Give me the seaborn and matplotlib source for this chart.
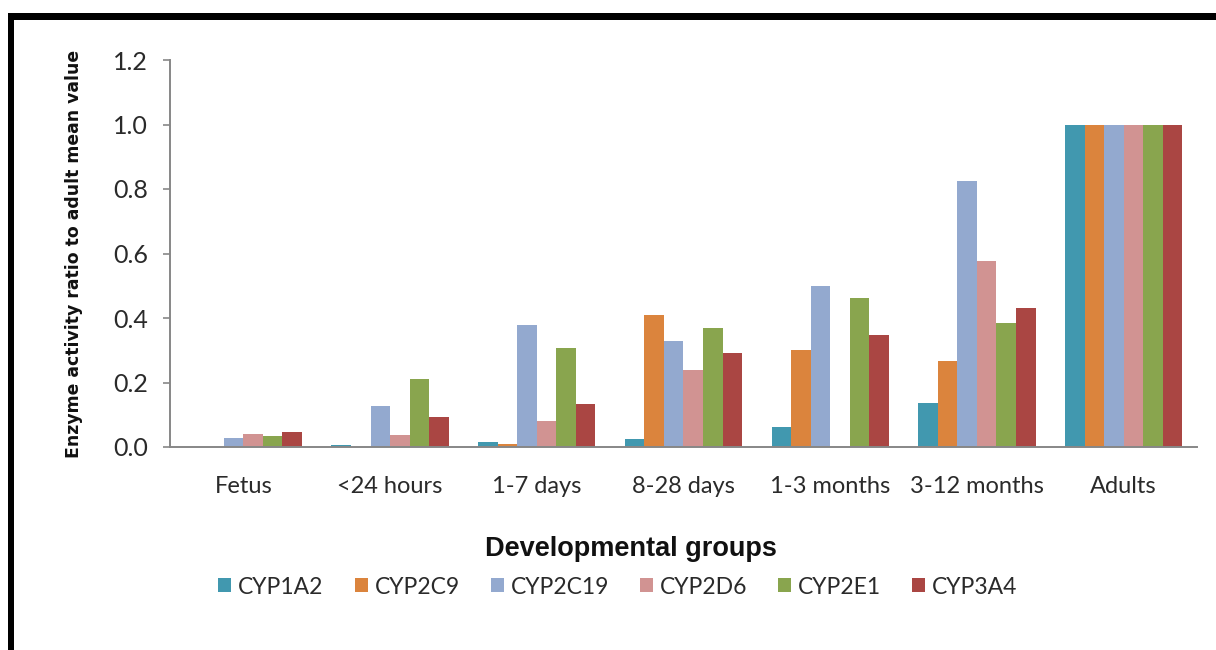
import pandas as pd
import matplotlib.pyplot as plt
import seaborn as sns
from matplotlib.patches import Rectangle

# data
groups = ['Fetus', '<24 hours', '1-7 days', '8-28 days', '1-3 months', '3-12 months', 'Adults']
enzymes = ['CYP1A2', 'CYP2C9', 'CYP2C19', 'CYP2D6', 'CYP2E1', 'CYP3A4']
cyp1a2 = [0.0, 0.005, 0.015, 0.024, 0.062, 0.136, 1.0]
cyp2c9 = [0.0, 0.0, 0.010, 0.410, 0.300, 0.268, 1.0]
cyp2c19 = [0.028, 0.127, 0.378, 0.328, 0.498, 0.824, 1.0]
cyp2d6 = [0.040, 0.037, 0.080, 0.240, 0.0, 0.578, 1.0]
cyp2e1 = [0.035, 0.212, 0.306, 0.370, 0.462, 0.383, 1.0]
cyp3a4 = [0.046, 0.093, 0.132, 0.290, 0.346, 0.432, 1.0]
colors = ['#4198AF', '#DB843D', '#93A9CF', '#D19392', '#89A54E', '#AA4643']

values = [cyp1a2, cyp2c9, cyp2c19, cyp2d6, cyp2e1, cyp3a4]
rows = []
for enz, vals in zip(enzymes, values):
    for g, v in zip(groups, vals):
        rows.append({'Group': g, 'Enzyme': enz, 'Value': v})
df = pd.DataFrame(rows)

sns.set_style('white')
plt.rcParams['font.family'] = ['Lato', 'DejaVu Sans']

fig = plt.figure(figsize=(12.16, 6.5), dpi=100)
ax = fig.add_axes([170 / 1216, 1 - 447 / 650, 1027 / 1216, 387 / 650])

sns.barplot(data=df, x='Group', y='Value', hue='Enzyme', order=groups,
            hue_order=enzymes, palette=colors, saturation=1, width=0.8,
            linewidth=0, ax=ax)

ax.set_ylim(0, 1.2)
ax.set_xlim(-0.5, len(groups) - 0.5)
ax.set_yticks([0, 0.2, 0.4, 0.6, 0.8, 1.0, 1.2])
ax.set_yticklabels(['0.0', '0.2', '0.4', '0.6', '0.8', '1.0', '1.2'])
ax.set_xticks([i - 0.5 for i in range(len(groups) + 1)], minor=True)

gray = '#878787'
for side in ['top', 'right']:
    ax.spines[side].set_visible(False)
for side in ['left', 'bottom']:
    ax.spines[side].set_color(gray)
    ax.spines[side].set_linewidth(1.4)

ax.tick_params(axis='x', which='major', length=0, labelsize=17, pad=21, labelcolor='#2a2a2a')
ax.tick_params(axis='x', which='minor', length=5, width=1.2, color=gray, direction='out')
ax.tick_params(axis='y', length=5, width=1.2, color=gray, direction='out',
               labelsize=18, pad=11, labelcolor='#2a2a2a', left=True)

ax.set_ylabel('Enzyme activity ratio to adult mean value', fontsize=12.4,
              fontweight='bold', family=['DejaVu Sans'], color='#111111')
ax.yaxis.set_label_coords(-0.085, 0.5)
ax.set_xlabel('Developmental groups', fontsize=19.5, fontweight='bold',
              family=['Liberation Sans'], color='#111111')
ax.xaxis.set_label_coords(0.449, -0.23)

handles, labels = ax.get_legend_handles_labels()
ax.legend_.remove()
fig.legend(handles, labels, loc='center', bbox_to_anchor=(618 / 1216, 1 - 587 / 650),
           ncol=6, frameon=False, fontsize=16.5, handlelength=0.57, handleheight=0.57,
           handletextpad=0.3, columnspacing=1.35, labelcolor='#2a2a2a')

# black frame at top and left of the reference image
fig.add_artist(Rectangle((8 / 1216, 1 - 20 / 650), 1, 7 / 650,
                         transform=fig.transFigure, color='black', lw=0))
fig.add_artist(Rectangle((8 / 1216, 0), 6 / 1216, 1 - 13 / 650,
                         transform=fig.transFigure, color='black', lw=0))

fig.savefig('out.png', dpi=100)
